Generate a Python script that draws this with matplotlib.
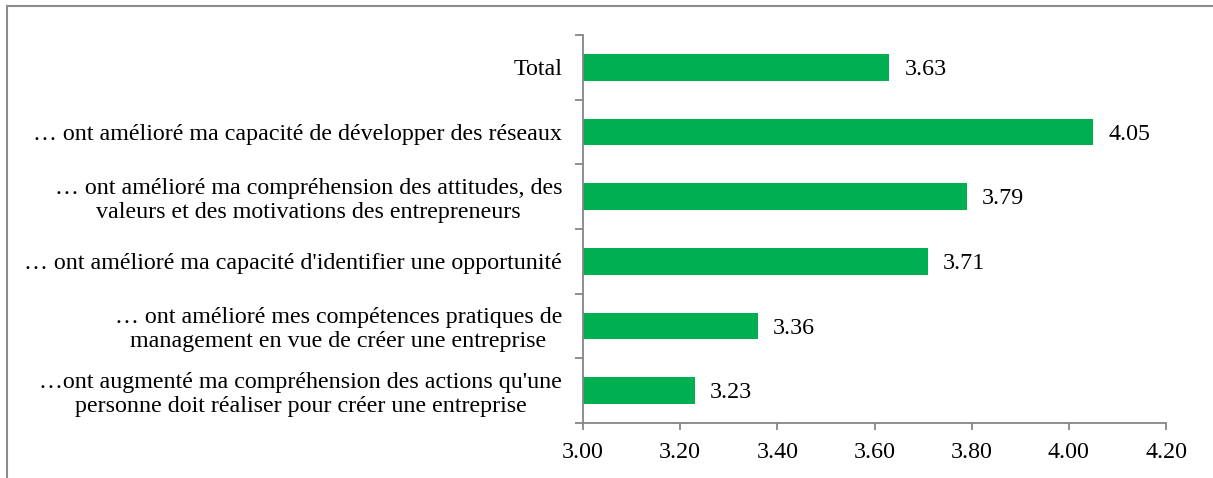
import matplotlib
matplotlib.use("Agg")
import matplotlib.pyplot as plt
from matplotlib.lines import Line2D
from matplotlib.ticker import FixedLocator

plt.rcParams['font.family'] = ['Liberation Serif', 'DejaVu Serif']

# data, top to bottom as in the chart
labels = [
    "Total",
    "… ont amélioré ma capacité de développer des réseaux",
    "… ont amélioré ma compréhension des attitudes, des\nvaleurs et des motivations des entrepreneurs",
    "… ont amélioré ma capacité d'identifier une opportunité",
    "… ont amélioré mes compétences pratiques de\nmanagement en vue de créer une entreprise",
    "…ont augmenté ma compréhension des actions qu'une\npersonne doit réaliser pour créer une entreprise",
]
values = [3.63, 4.05, 3.79, 3.71, 3.36, 3.23]
x_ticks = [3.00, 3.20, 3.40, 3.60, 3.80, 4.00, 4.20]

green = "#00B050"
axis_gray = "#868686"
W, H = 1213, 478
fs = 17.3

fig = plt.figure(figsize=(W / 100, H / 100), dpi=100)
ax = fig.add_axes([583 / W, 1 - 423 / H, (1166 - 583) / W, (423 - 35) / H])

n = len(labels)
ypos = list(range(n))[::-1]
ax.barh(ypos, [v - 3.0 for v in values], left=3.0, height=0.41, color=green)

for y, v in zip(ypos, values):
    ax.annotate(f"{v:.2f}", (v, y), xytext=(11, -1.5), textcoords="offset points",
                ha="left", va="center", fontsize=fs)

ax.set_xlim(3.0, 4.2)
ax.set_ylim(-0.5, n - 0.5)
ax.set_xticks(x_ticks)
ax.set_xticklabels([f"{t:.2f}" for t in x_ticks], fontsize=fs)
ax.set_yticks(ypos)
ax.set_yticklabels(labels, fontsize=fs, multialignment="center", linespacing=1.17)
ax.yaxis.set_minor_locator(FixedLocator([i - 0.5 for i in range(n + 1)]))

ax.tick_params(axis="y", which="major", length=0, pad=15)
ax.tick_params(axis="y", which="minor", length=6, width=1.3, color=axis_gray)
ax.tick_params(axis="x", which="major", length=5, width=1.3, color=axis_gray, pad=9)

for s in ["top", "right"]:
    ax.spines[s].set_visible(False)
for s in ["left", "bottom"]:
    ax.spines[s].set_color(axis_gray)
    ax.spines[s].set_linewidth(1.3)

# outer chart-area frame (only left and top edges visible in the picture)
fx, fy = 7 / W, 1 - 6 / H
fig.add_artist(Line2D([fx, fx], [0, fy], transform=fig.transFigure, color="#8c8c8c", lw=1.5))
fig.add_artist(Line2D([fx, 1], [fy, fy], transform=fig.transFigure, color="#8c8c8c", lw=1.5))

fig.savefig("out.png", dpi=100)
